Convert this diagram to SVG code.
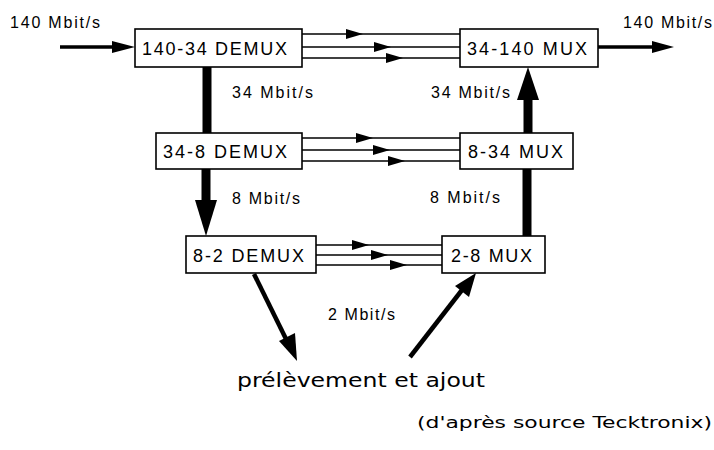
<svg xmlns="http://www.w3.org/2000/svg" xmlns:xlink="http://www.w3.org/1999/xlink" width="714" height="450" viewBox="0 0 714 450">
  <style>
    .box { fill: #fff; stroke: #000; stroke-width: 1.6; }
    .btxt { font-family: "Liberation Sans", Arial, sans-serif; font-size: 18px; fill: #000; }
    .lbl { font-family: "Liberation Sans", Arial, sans-serif; font-size: 16px; fill: #000; }
    .hand { font-family: "DejaVu Sans", sans-serif; fill: #000; }
    .thin { stroke: #000; stroke-width: 1.5; fill: none; }
    .mid { stroke: #000; stroke-width: 3.5; fill: none; }
    .thick { stroke: #000; stroke-width: 9; fill: none; }
    .head { fill: #000; }
  </style>
  <defs>
    <!-- small solid arrowhead, tip at origin, pointing right -->
    <path id="tri" d="M0,0 L-17,-5 L-17,5 Z"/>
  </defs>
  <rect width="714" height="450" fill="#fff"/>

  <g id="connectors">
    <!-- 140 Mbit/s in and out -->
    <line class="mid" x1="60" y1="47" x2="118" y2="47"/>
    <path class="head" d="M135,47 L112,41 L112,53 Z"/>
    <line class="mid" x1="598" y1="47" x2="656" y2="47"/>
    <path class="head" d="M674,47 L652,41 L652,53 Z"/>

    <!-- 34 Mbit/s tributaries -->
    <line class="thin" x1="302" y1="34" x2="460" y2="34"/>
    <line class="thin" x1="302" y1="47" x2="460" y2="47"/>
    <line class="thin" x1="302" y1="58" x2="460" y2="58"/>
    <use xlink:href="#tri" class="head" x="363" y="34"/>
    <use xlink:href="#tri" class="head" x="391" y="47"/>
    <use xlink:href="#tri" class="head" x="403" y="58"/>

    <!-- 8 Mbit/s tributaries -->
    <line class="thin" x1="302" y1="138" x2="460" y2="138"/>
    <line class="thin" x1="302" y1="150" x2="460" y2="150"/>
    <line class="thin" x1="302" y1="161" x2="460" y2="161"/>
    <use xlink:href="#tri" class="head" x="373" y="138"/>
    <use xlink:href="#tri" class="head" x="390" y="150"/>
    <use xlink:href="#tri" class="head" x="405" y="161"/>

    <!-- 2 Mbit/s tributaries -->
    <line class="thin" x1="316" y1="245" x2="442" y2="245"/>
    <line class="thin" x1="316" y1="255" x2="442" y2="255"/>
    <line class="thin" x1="316" y1="265" x2="442" y2="265"/>
    <use xlink:href="#tri" class="head" x="369" y="245"/>
    <use xlink:href="#tri" class="head" x="388" y="255"/>
    <use xlink:href="#tri" class="head" x="407" y="265"/>

    <!-- demultiplexing chain -->
    <line class="thick" x1="207" y1="67" x2="207" y2="133"/>
    <line class="thick" x1="206" y1="169" x2="206" y2="202"/>
    <path class="head" d="M206,236 L195,200 L217,200 Z"/>

    <!-- multiplexing chain -->
    <line class="thick" x1="527" y1="237" x2="527" y2="169"/>
    <line class="thick" x1="528" y1="133" x2="528" y2="98"/>
    <path class="head" d="M528,67 L517,100 L539,100 Z"/>

    <!-- drop and insert -->
    <line stroke="#000" stroke-width="4.5" x1="254" y1="274" x2="287" y2="341"/>
    <path class="head" d="M297,361 L279,341 L295,333 Z"/>
    <line stroke="#000" stroke-width="4.5" x1="410" y1="357" x2="462" y2="290"/>
    <path class="head" d="M476,273 L469,297 L455,286 Z"/>
  </g>

  <g id="demux140">
    <rect class="box" x="135" y="29" width="167" height="38"/>
    <text class="btxt" x="142" y="55" textLength="145" lengthAdjust="spacing">140-34 DEMUX</text>
  </g>
  <g id="mux140">
    <rect class="box" x="460" y="29" width="138" height="38"/>
    <text class="btxt" x="467" y="55" textLength="120" lengthAdjust="spacing">34-140 MUX</text>
  </g>
  <g id="demux34">
    <rect class="box" x="156" y="133" width="146" height="36"/>
    <text class="btxt" x="163" y="158" textLength="124" lengthAdjust="spacing">34-8 DEMUX</text>
  </g>
  <g id="mux34">
    <rect class="box" x="460" y="133" width="113" height="36"/>
    <text class="btxt" x="468" y="158" textLength="95" lengthAdjust="spacing">8-34 MUX</text>
  </g>
  <g id="demux8">
    <rect class="box" x="186" y="236" width="130" height="37"/>
    <text class="btxt" x="193" y="262" textLength="111" lengthAdjust="spacing">8-2 DEMUX</text>
  </g>
  <g id="mux8">
    <rect class="box" x="442" y="236" width="103" height="37"/>
    <text class="btxt" x="451" y="262" textLength="81" lengthAdjust="spacing">2-8 MUX</text>
  </g>

  <g id="labels">
    <text class="lbl" x="10" y="28" textLength="90" lengthAdjust="spacing">140 Mbit/s</text>
    <text class="lbl" x="623" y="28" textLength="89" lengthAdjust="spacing">140 Mbit/s</text>
    <text class="lbl" x="232" y="98" textLength="81" lengthAdjust="spacing">34 Mbit/s</text>
    <text class="lbl" x="431" y="98" textLength="79" lengthAdjust="spacing">34 Mbit/s</text>
    <text class="lbl" x="232" y="204" textLength="68" lengthAdjust="spacing">8 Mbit/s</text>
    <text class="lbl" x="430" y="203" textLength="70" lengthAdjust="spacing">8 Mbit/s</text>
    <text class="lbl" x="328" y="320" textLength="67" lengthAdjust="spacing">2 Mbit/s</text>
  </g>

  <g id="addrop">
    <text class="hand" x="237" y="387" font-size="20" textLength="248" lengthAdjust="spacingAndGlyphs">prélèvement et ajout</text>
  </g>
  <g id="credit">
    <text class="hand" x="417" y="428" font-size="15" textLength="295" lengthAdjust="spacingAndGlyphs">(d'après source Tecktronix)</text>
  </g>
</svg>
